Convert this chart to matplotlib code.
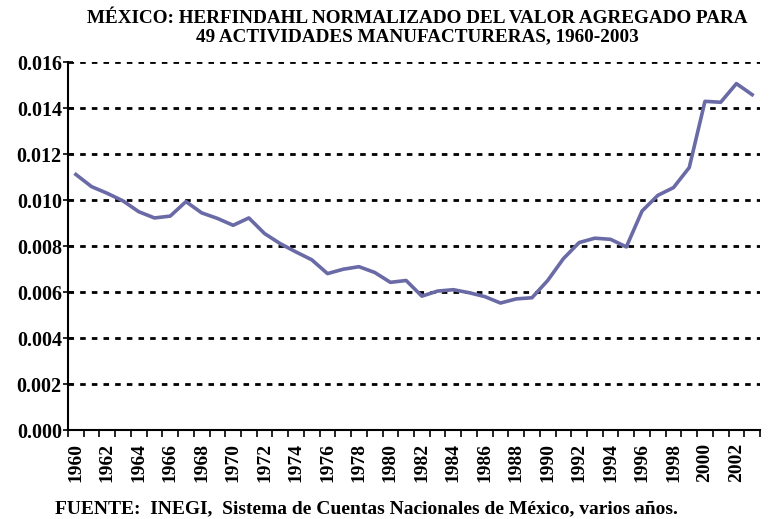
import matplotlib.pyplot as plt
from matplotlib.ticker import MultipleLocator, FixedLocator

years = list(range(1960, 2004))
herfindahl = [
    0.01111, 0.01058, 0.01029, 0.00996, 0.00949, 0.00922, 0.00930, 0.00993,
    0.00944, 0.00920, 0.00890, 0.00922, 0.00854, 0.00810, 0.00774, 0.00740,
    0.00680, 0.00699, 0.00710, 0.00685, 0.00642, 0.00650, 0.00582, 0.00604,
    0.00610, 0.00597, 0.00580, 0.00552, 0.00570, 0.00575, 0.00650, 0.00745,
    0.00815, 0.00834, 0.00829, 0.00796, 0.00952, 0.01020, 0.01054, 0.01141,
    0.01429, 0.01425, 0.01506, 0.01458,
]
tick_years = list(range(1960, 2004, 2))

plt.rcParams['font.family'] = ['Liberation Serif', 'DejaVu Serif']
plt.rcParams['font.weight'] = 'bold'

fig = plt.figure(figsize=(7.72, 5.19), dpi=100)
ax = fig.add_axes([68 / 772, 1 - 430 / 519, (760 - 68) / 772, (430 - 62) / 519])

ax.plot(years, herfindahl, color='#6a6aa6', lw=2.6, solid_joinstyle='round', zorder=3)

ax.set_xlim(1959.5, 2003.5)
ax.set_ylim(0, 0.016)

# lineas punteadas horizontales
for v in [0.002, 0.004, 0.006, 0.008, 0.010, 0.012, 0.014, 0.016]:
    ax.axhline(v, color='black', lw=2, ls=(0, (2, 2.2)), zorder=1)

ax.yaxis.set_major_locator(MultipleLocator(0.002))
ax.set_yticklabels([f'{v:.3f}' for v in ax.get_yticks()], fontsize=14.5, fontweight='bold')
ax.tick_params(axis='y', direction='inout', length=7, width=1.2, pad=1)

ax.xaxis.set_major_locator(FixedLocator(tick_years))
ax.set_xticklabels([str(y) for y in tick_years], rotation=90, fontsize=14, fontweight='bold')
ax.xaxis.set_minor_locator(FixedLocator([y - 0.5 for y in years] + [2003.5]))
ax.tick_params(axis='x', which='major', length=0, pad=9)
ax.tick_params(axis='x', which='minor', direction='out', length=5, width=1.2)

for s in ['top', 'right']:
    ax.spines[s].set_visible(False)
for s in ['left', 'bottom']:
    ax.spines[s].set_linewidth(1.5)

fig.text(0.541, 1 - 10 / 519, 'MÉXICO: HERFINDAHL NORMALIZADO DEL VALOR AGREGADO PARA\n'
         '49 ACTIVIDADES MANUFACTURERAS, 1960-2003',
         ha='center', va='top', fontsize=13.8, fontweight='bold', linespacing=1.1)

fig.text(55 / 772, 1 - 513 / 519,
         'FUENTE:  INEGI,  Sistema de Cuentas Nacionales de México, varios años.',
         ha='left', va='baseline', fontsize=14, fontweight='bold')

fig.savefig('out.png', dpi=100)
